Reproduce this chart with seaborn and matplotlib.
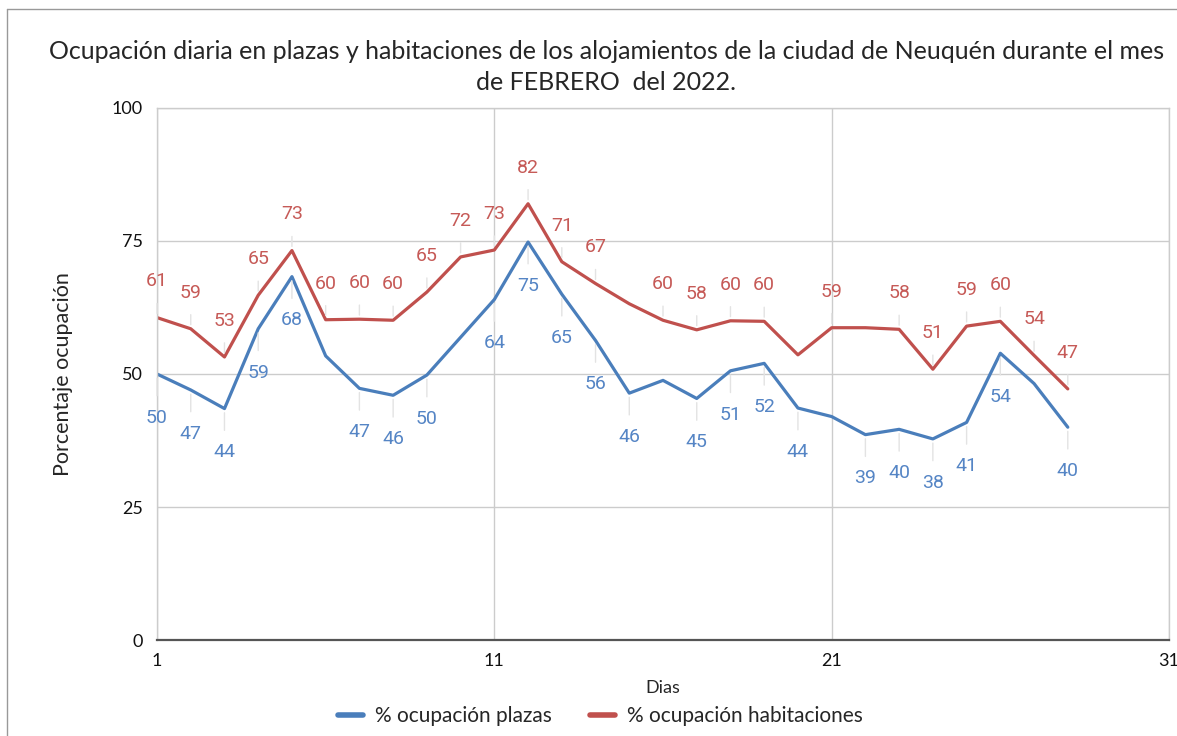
"""Ocupación diaria de alojamientos en Neuquén, febrero 2022."""

import matplotlib.pyplot as plt
import numpy as np
import pandas as pd
import seaborn as sns
from matplotlib.lines import Line2D

DAYS = list(range(1, 29))
PLAZAS = [50, 47, 43.5, 58.5, 68.3, 53.4, 47.3, 46, 49.8, 56.9, 64, 74.8, 65, 56.3,
          46.4, 48.8, 45.4, 50.6, 52, 43.6, 42, 38.6, 39.6, 37.8, 40.9, 53.9, 48.2, 40]
HABITACIONES = [60.6, 58.5, 53.2, 64.8, 73.2, 60.2, 60.3, 60.1, 65.4, 72, 73.3, 82, 71.1, 67,
                63.2, 60.1, 58.3, 60, 59.9, 53.6, 58.7, 58.7, 58.4, 50.9, 59, 59.9, 53.5, 47.2]
PLAZAS_LABELS = [50, 47, 44, 59, 68, None, 47, 46, 50, None, 64, 75, 65, 56,
                 46, None, 45, 51, 52, 44, None, 39, 40, 38, 41, 54, None, 40]
HAB_LABELS = [61, 59, 53, 65, 73, 60, 60, 60, 65, 72, 73, 82, 71, 67,
              None, 60, 58, 60, 60, None, 59, None, 58, 51, 59, 60, 54, 47]

SERIES = ['% ocupación plazas', '% ocupación habitaciones']
COLORS = ['#4a7ebb', '#c0504d']
LABEL_COLORS = ['#5585c5', '#c65a57']

TITLE = ('Ocupación diaria en plazas y habitaciones de los alojamientos de la ciudad de Neuquén durante el mes\n'
         'de FEBRERO  del 2022.')

sns.set_theme(style='white')
plt.rcParams['font.family'] = ['Lato', 'DejaVu Sans']

df = pd.DataFrame({
    'Dias': DAYS * 2,
    'valor': PLAZAS + HABITACIONES,
    'serie': [SERIES[0]] * len(DAYS) + [SERIES[1]] * len(DAYS),
})

fig = plt.figure(figsize=(11.77, 7.36), dpi=100)
ax = fig.add_axes([0.1334, 0.1304, 0.8598, 0.7229])

sns.lineplot(data=df, x='Dias', y='valor', hue='serie', palette=COLORS,
             linewidth=2.3, ax=ax, legend=False)

# data labels with thin leader lines
for vals, labels, col, dy in [(PLAZAS, PLAZAS_LABELS, LABEL_COLORS[0], -31.5),
                              (HABITACIONES, HAB_LABELS, LABEL_COLORS[1], 26)]:
    for d, v, lab in zip(DAYS, vals, labels):
        if lab is None:
            continue
        ax.annotate(str(lab), xy=(d, v), xytext=(0, dy), textcoords='offset points',
                    ha='center', va='center', fontsize=14, color=col, family='Roboto',
                    arrowprops=dict(arrowstyle='-', color='#e3e3e3', lw=1,
                                    shrinkA=7, shrinkB=3))

ax.set_xlim(1, 31)
ax.set_ylim(0, 100)
ax.set_xticks([1, 11, 21, 31])
ax.set_yticks([0, 25, 50, 75, 100])
ax.grid(True, color='#cccccc', linewidth=1)
ax.tick_params(axis='both', length=0, labelsize=13, colors='#111111')
ax.tick_params(axis='x', pad=9)
ax.tick_params(axis='y', pad=10)
for side in ['top', 'right', 'left']:
    ax.spines[side].set_color('#cccccc')
    ax.spines[side].set_linewidth(1)
ax.spines['bottom'].set_color('#555555')
ax.spines['bottom'].set_linewidth(1.6)

ax.set_xlabel('Dias', fontsize=13, labelpad=8)
ax.set_ylabel('Porcentaje ocupación', fontsize=15.5, labelpad=28)
fig.suptitle(TITLE, fontsize=18, x=0.515, y=0.946, linespacing=1.45)

handles = [Line2D([0], [0], color=c, lw=4) for c in COLORS]
fig.legend(handles, SERIES, loc='lower center', ncol=2, frameon=False, fontsize=15,
           handlelength=1.2, handletextpad=0.6, columnspacing=1.8,
           bbox_to_anchor=(0.51, -0.012))

# outer border lines (left and top)
fig.add_artist(Line2D([0.006, 0.006], [0, 0.988], color='#999999', lw=1, transform=fig.transFigure))
fig.add_artist(Line2D([0.006, 1], [0.988, 0.988], color='#999999', lw=1, transform=fig.transFigure))

plt.savefig('out.png', dpi=100)
plt.close()
